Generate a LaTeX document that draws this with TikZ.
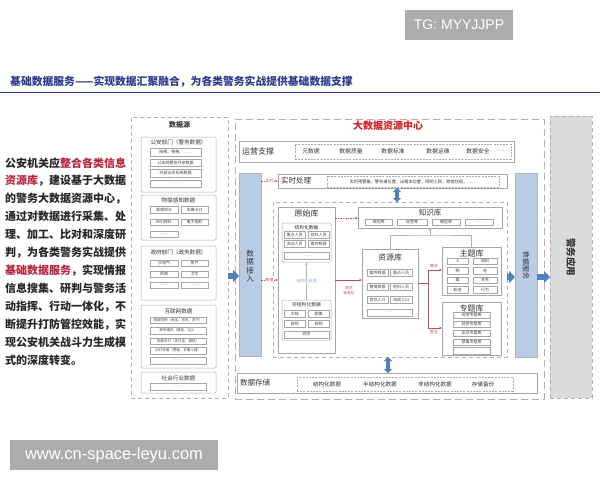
\documentclass[tikz,border=0pt]{standalone}
\usepackage{fontspec}
\setmainfont{Noto Sans CJK SC}
\newfontfamily\latinsans{Liberation Sans}
\usetikzlibrary{arrows.meta}
\definecolor{titleblue}{HTML}{2B3A8C}
\definecolor{darkred}{HTML}{B8253A}
\definecolor{brightred}{HTML}{D41F1F}
\definecolor{linered}{HTML}{C0504D}
\definecolor{barblue}{HTML}{B8CCE4}
\definecolor{arrowblue}{HTML}{4F81BD}
\definecolor{pinkdash}{HTML}{D6A3A3}
\definecolor{lightblue}{HTML}{7FA7D0}
\newcommand\fs[1]{\fontsize{#1}{#1}\selectfont}
\newcommand\bx[6]{\node[#2, minimum width={#5-#3}, minimum height={#6-#4}, inner sep=0pt, outer sep=0pt] (#1) at ({(#3+#5)/2},{(#4+#6)/2}) {};}
\newcommand\tb[6]{\node[itm, minimum width=#4, minimum height=#5] (#1) at (#2,#3) {#6};}
\begin{document}
\begin{tikzpicture}[x=1pt,y=-1pt,
  itm/.style={draw=gray!70, line width=0.4pt, inner sep=0pt, font=\fs{4}, text=black!75},
  grp/.style={draw=gray!65, line width=0.5pt, rounded corners=1pt},
  blk/.style={draw=gray!70, line width=0.6pt},
  dbox/.style={draw=gray!65, line width=0.5pt, dash pattern=on 2pt off 1.2pt},
  gdash/.style={draw=gray!60, line width=0.7pt, dash pattern=on 4pt off 3pt},
  rdash/.style={draw=pinkdash, line width=0.9pt, dash pattern=on 7pt off 4pt},
  bar/.style={fill=barblue, draw=gray!60, line width=0.5pt},
  lbl/.style={inner sep=0pt, text=black!80},
  rarr/.style={draw=linered, line width=0.5pt, dash pattern=on 1.5pt off 1pt, -{Latex[length=2.5pt,width=2.5pt]}},
  rline/.style={draw=linered, line width=0.5pt, -{Latex[length=2.5pt,width=2.5pt]}},
  rlab/.style={inner sep=0.5pt, fill=white, text=linered, font=\fs{3.8}},
  barrow/.style={draw=arrowblue, line width=6pt, -{Triangle[length=6pt,width=12pt]}},
  dblarrow/.style={draw=arrowblue, line width=3.5pt, {Triangle[length=4pt,width=8pt]}-{Triangle[length=4pt,width=8pt]}},
]
\useasboundingbox (0,0) rectangle (600,480);

% watermarks
\node[fill=gray!65, text=white, font=\latinsans\fs{14}, minimum width=108, minimum height=30, inner sep=0pt] (tg) at (459,25) {TG: MYYJJPP};
\node[fill=gray!65, text=white, font=\latinsans\fs{16.5}, minimum width=208, minimum height=30, inner sep=0pt] (url) at (114,455) {www.cn-space-leyu.com};

% title
\node[anchor=west, inner sep=0pt, font=\bfseries\fs{10.8}, text=titleblue] (title) at (10,82) {基础数据服务——实现数据汇聚融合，为各类警务实战提供基础数据支撑};
\coordinate (tl) at (0,92);
\coordinate (tr) at (600,92);
\draw[titleblue, line width=0.8pt] (tl) -- (tr);

% left paragraph
\foreach \t [count=\i from 0] in {
  {公安机关应\textcolor{darkred}{整合各类信息}},
  {\textcolor{darkred}{资源库}，建设基于大数据},
  {的警务大数据资源中心，},
  {通过对数据进行采集、处},
  {理、加工、比对和深度研},
  {判，为各类警务实战提供},
  {\textcolor{darkred}{基础数据服务}，实现情报},
  {信息搜集、研判与警务活},
  {动指挥、行动一体化，不},
  {断提升打防管控效能，实},
  {现公安机关战斗力生成模},
  {式的深度转变。}}
  \node[lbl, anchor=west, font=\bfseries\fs{11}, text=black!85] (lt\i) at (5,{163+17.9*\i}) {\t};

% data sources
\bx{src}{gdash}{131}{117}{228}{398}
\node[lbl, font=\bfseries\fs{7}] (srct) at (179.5,125) {数据源};

\bx{g1}{grp}{141}{137}{216}{192}
\node[lbl, font=\fs{5.6}] (g1t) at (178.5,142.5) {公安部门（警务数据）};
\tb{g1a}{175.5}{152}{51}{7.5}{网格、物格、……}
\tb{g1b}{175.5}{162.5}{51}{7.5}{公安网警务共享数据}
\tb{g1c}{175.5}{173}{51}{7.5}{内部业务系统数据}
\tb{g1d}{175.5}{183.5}{51}{7.5}{……}

\bx{g2}{grp}{141}{195}{216}{240}
\node[lbl, font=\fs{5.6}] (g2t) at (178.5,200.5) {物联感知数据};
\tb{g2a}{164}{209.5}{28}{6.5}{视频探头}
\tb{g2b}{194.5}{209.5}{27}{6.5}{车辆卡口}
\tb{g2c}{164}{222}{28}{6.5}{WiFi探针}
\tb{g2d}{194.5}{222}{27}{6.5}{电子围栏}
\tb{g2e}{164}{234}{28}{6.5}{……}

\bx{g3}{grp}{141}{246}{216}{300}
\node[lbl, font=\fs{5.6}] (g3t) at (178.5,252) {政府部门（政务数据）};
\tb{g3a}{164}{263}{28}{6.5}{水电气}
\tb{g3b}{194.5}{263}{27}{6.5}{房产}
\tb{g3c}{164}{274}{28}{6.5}{民政}
\tb{g3d}{194.5}{274}{27}{6.5}{卫生}
\tb{g3e}{164}{285}{28}{6.5}{……}
\tb{g3f}{194.5}{285}{27}{6.5}{……}

\bx{g4}{grp}{141}{305}{216}{368}
\node[lbl, font=\fs{5.6}] (g4t) at (178.5,311) {互联网数据};
\tb{g4a}{178}{320}{56}{6.5}{\fs{3.5}网络购物（淘宝、京东、苏宁）}
\tb{g4b}{178}{330.5}{56}{6.5}{\fs{3.5}即时通讯（微信、QQ）}
\tb{g4c}{178}{341}{56}{6.5}{\fs{3.5}网络支付（支付宝、微信）}
\tb{g4d}{178}{350.5}{56}{6.5}{\fs{3.5}出行住宿（携程、去哪儿网）}
\tb{g4e}{178}{360.5}{56}{6.5}{……}

\bx{g5}{grp}{141}{372}{216}{393}
\node[lbl, font=\fs{5.6}] (g5t) at (178.5,378) {社会行业数据};
\tb{g5a}{178}{386.5}{56}{6.5}{……}

% big center dashed box
\bx{center}{rdash}{235}{119}{544}{399}
\node[lbl, font=\bfseries\fs{10}, text=brightred] (centert) at (388,125.5) {大数据资源中心};

% operations support
\bx{yy}{blk}{239}{141}{514}{162}
\node[lbl, anchor=west, font=\fs{8}] (yyt) at (242,151.5) {运营支撑};
\bx{yyd}{dbox}{295}{144}{511}{159}
\node[lbl, font=\fs{5.8}] (yy1) at (311,151.5) {元数据};
\node[lbl, font=\fs{5.8}] (yy2) at (351,151.5) {数据质量};
\node[lbl, font=\fs{5.8}] (yy3) at (393,151.5) {数据标准};
\node[lbl, font=\fs{5.8}] (yy4) at (438,151.5) {数据运维};
\node[lbl, font=\fs{5.8}] (yy5) at (478,151.5) {数据安全};
\node[lbl, font=\fs{5.8}] (yy6) at (503,151.5) {……};

% data access bar
\bx{jr}{bar}{239}{173}{261}{356}
\node[lbl, align=center, font=\fontsize{7.5}{8.5}\selectfont] (jrt) at (250,266) {数\\据\\接\\入};
\coordinate (ay) at (0,276);
\draw[barrow] (src.east |- ay) -- (jr.west |- ay);

% realtime processing
\bx{ss}{blk}{278}{174}{507}{188}
\node[lbl, anchor=west, font=\fs{7.5}] (sst) at (281,181) {实时处理};
\bx{ssd}{dbox}{327}{176}{499}{187}
\node[lbl, font=\fs{4.2}] (ssdt) at (413,181.5) {实时预警集，警务通位置，出租车位置，网吧上网，旅馆住宿，……};
\draw[rarr] (jr.east |- ss.west) -- (ss.west) node[midway, rlab] {实时};

% lower dashed region
\bx{low}{gdash}{273}{202}{507}{357}
\draw[dblarrow] ([xshift=4.5pt]ss.south) -- ([xshift=4.5pt]ss.south |- low.north);

% original store
\bx{ys}{blk}{278}{207}{335}{353}
\node[lbl, font=\fs{8}] (yst) at (306.5,213.5) {原始库};
\bx{jg}{grp}{282}{223}{331}{262}
\node[lbl, font=\fs{4.8}] (jgt) at (306.5,228) {结构化数据};
\tb{jg1}{294.5}{234.5}{21}{7}{重点人员}
\tb{jg2}{318.5}{234.5}{21}{7}{前科人员}
\tb{jg3}{294.5}{244}{21}{7}{流动人员}
\tb{jg4}{318.5}{244}{21}{7}{案件数据}
\tb{jg5}{306.5}{256}{45}{7}{……}
\bx{fg}{grp}{282}{300}{331}{340}
\node[lbl, font=\fs{4.8}] (fgt) at (306.5,305) {非结构化数据};
\tb{fg1}{294.5}{314}{21}{7}{文档}
\tb{fg2}{318.5}{314}{21}{7}{图像}
\tb{fg3}{294.5}{324}{21}{7}{音频}
\tb{fg4}{318.5}{324}{21}{7}{视频}
\tb{fg5}{306.5}{334.5}{45}{7}{网页}
\draw[draw=gray!60, line width=0.5pt, -{Latex[length=2.5pt,width=2.5pt]}] (fg.north) -- (jg.south)
  node[midway, fill=white, inner sep=0.5pt, font=\fs{4}, text=lightblue] {结构化处理};
\coordinate (dy) at (0,280);
\draw[rarr] (jr.east |- dy) -- (ys.west |- dy) node[midway, rlab] {数据};

% knowledge store
\bx{kb}{blk}{358}{207}{502}{228}
\node[lbl, font=\fs{7.5}] (kbt) at (430,213) {知识库};
\tb{kb1}{378.5}{222}{27}{6}{规则库}
\tb{kb2}{412}{222}{30}{6}{标签库}
\tb{kb3}{446}{222}{28}{6}{模型库}
\tb{kb4}{479}{222}{28}{6}{……}
\coordinate (ky) at (0,218);
\draw[rarr] (ys.east |- ky) -- (kb.west |- ky);

% resource store
\bx{zy}{blk}{362}{249}{418}{318}
\node[lbl, font=\fs{8}] (zyt) at (390,257) {资源库};
\tb{zy1}{377.5}{273}{21}{7}{案件数据}
\tb{zy2}{401}{273}{22}{7}{重点人员}
\tb{zy3}{377.5}{287}{21}{7}{警情数据}
\tb{zy4}{401}{287}{22}{7}{前科人员}
\tb{zy5}{377.5}{300}{21}{7}{常住人口}
\tb{zy6}{401}{300}{22}{7}{流动人口}
\tb{zy7}{389.5}{312.5}{45}{7}{……}

% cleaning arrow original -> resource
\coordinate (cy) at (0,280);
\draw[rline] (ys.east |- cy) -- (zy.west |- cy);
\node[lbl, align=center, text=linered, font=\fontsize{3.8}{5}\selectfont] (cl) at (349,291) {清洗\\标准化};

% theme store
\bx{zt}{blk}{442}{247}{501}{295}
\node[lbl, font=\fs{8}] (ztt) at (471.5,253) {主题库};
\tb{zt1}{457.5}{261}{21}{6.5}{人}
\tb{zt2}{485}{261}{24}{6.5}{组织}
\tb{zt3}{457.5}{270.5}{21}{6.5}{物}
\tb{zt4}{485}{270.5}{24}{6.5}{地}
\tb{zt5}{457.5}{280}{21}{6.5}{案}
\tb{zt6}{485}{280}{24}{6.5}{关系}
\tb{zt7}{457.5}{289.5}{21}{6.5}{轨迹}
\tb{zt8}{485}{289.5}{24}{6.5}{行为}

% special store
\bx{zj}{blk}{442}{302}{501}{355}
\node[lbl, font=\fs{8}] (zjt) at (471.5,308) {专题库};
\tb{zj1}{471.5}{315}{37}{6.5}{刑侦专题库}
\tb{zj2}{471.5}{324}{37}{6.5}{经侦专题库}
\tb{zj3}{471.5}{333}{37}{6.5}{反恐专题库}
\tb{zj4}{471.5}{342}{37}{6.5}{禁毒专题库}
\tb{zj5}{471.5}{350.5}{37}{6.5}{……}

% gray links up to knowledge
\coordinate (jn) at (430,235);
\draw[draw=gray!60, line width=0.5pt] (zy.north) |- (jn) -| (zt.north);
\draw[draw=gray!60, line width=0.5pt, -{Latex[length=2.5pt,width=2.5pt,fill=linered]}] (jn) -- (jn |- kb.south);

% integration arrows
\coordinate (t1) at (442,270);
\coordinate (t2) at (442,328);
\draw[rline] (zy.east) -- ++(10,0) |- (t1);
\draw[rline] (zy.east) -- ++(10,0) |- (t2);
\node[lbl, text=linered, font=\fs{3.8}] (zh1) at (434,266) {整合};
\node[lbl, text=linered, font=\fs{3.8}] (zh2) at (434,332) {整合};

% data service bar
\bx{fw}{bar}{515}{173}{537}{357}
\node[lbl, rotate=-90, font=\fs{7}] (fwt) at (526,265) {数据服务};
\coordinate (by) at (0,277);
\draw[barrow] (low.east |- by) -- (fw.west |- by);

% police application
\bx{jy}{gdash}{550}{116}{592}{398}
\path[fill=gray!28] (jy.north west) rectangle (jy.south east);
\bx{jy2}{gdash}{550}{116}{592}{398}
\node[lbl, rotate=-90, font=\bfseries\fs{9.5}] (jyt) at (571,257) {警务应用};
\draw[barrow] (fw.east |- by) -- (jy.west |- by);

% storage
\bx{cc}{blk}{237}{373}{537}{393}
\node[lbl, anchor=west, font=\fs{7.5}] (cct) at (240,383) {数据存储};
\bx{ccd}{dbox}{297}{377}{513}{391}
\node[lbl, font=\fs{5.6}] (cc1) at (327,384) {结构化数据};
\node[lbl, font=\fs{5.6}] (cc2) at (380,384) {半结构化数据};
\node[lbl, font=\fs{5.6}] (cc3) at (435,384) {非结构化数据};
\node[lbl, font=\fs{5.6}] (cc4) at (483,384) {存储备份};
\coordinate (sx) at (388,0);
\draw[dblarrow] (low.south -| sx) -- (cc.north -| sx);
\end{tikzpicture}
\end{document}
